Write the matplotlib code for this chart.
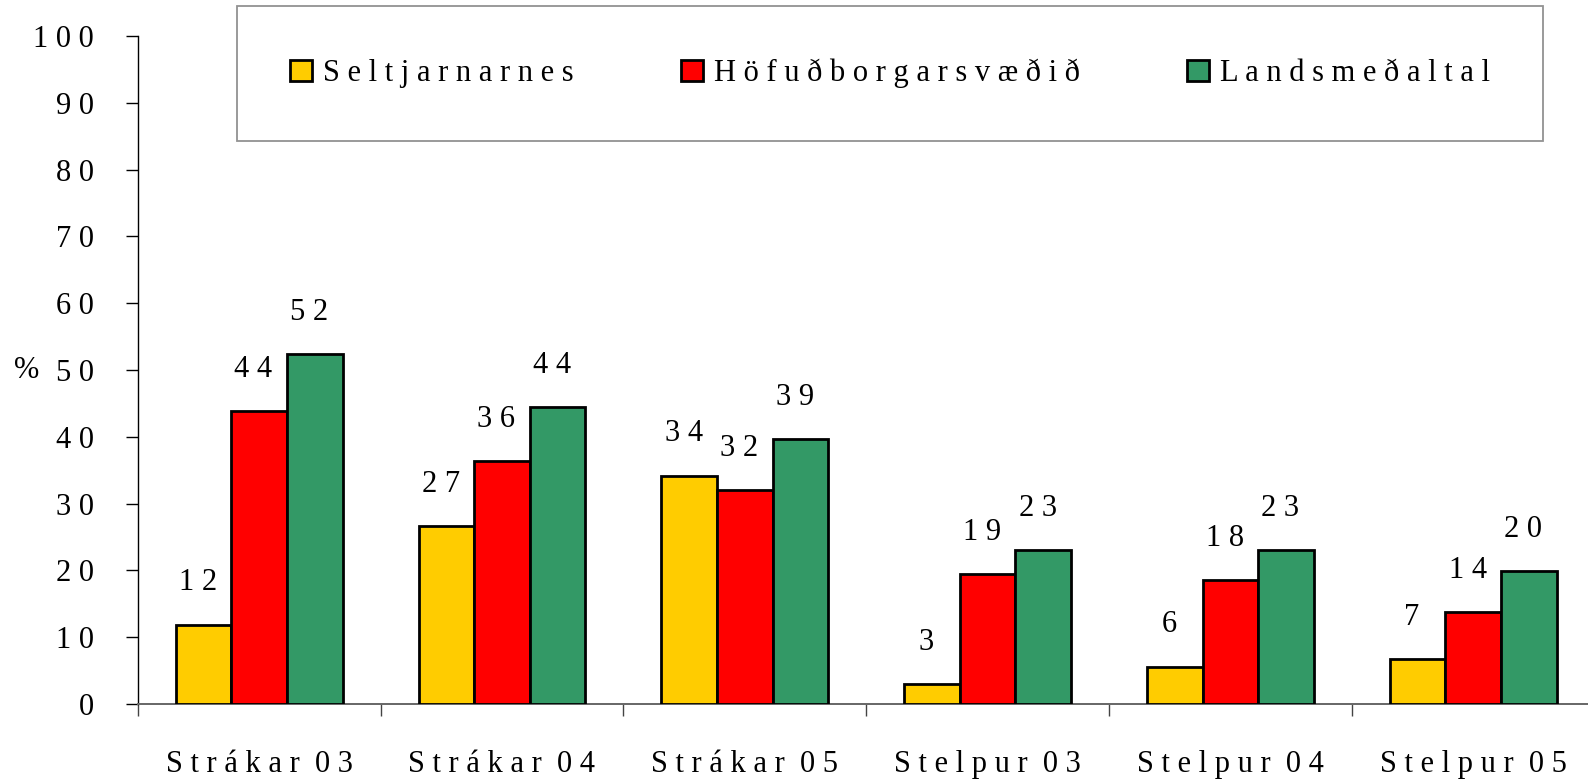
import matplotlib
matplotlib.use('Agg')
import matplotlib.pyplot as plt
import numpy as np

plt.rcParams['font.family'] = ['Liberation Serif', 'DejaVu Serif']

categories = ['S t r á k a r  0 3', 'S t r á k a r  0 4', 'S t r á k a r  0 5',
              'S t e l p u r  0 3', 'S t e l p u r  0 4', 'S t e l p u r  0 5']
series_names = ['S e l t j a r n a r n e s',
                'H ö f u ð b o r g a r s v æ ð i ð',
                'L a n d s m e ð a l t a l']
seltjarnarnes = [11.9, 26.6, 34.2, 3.0, 5.6, 6.7]
hofudborg = [43.8, 36.4, 32.0, 19.5, 18.6, 13.7]
landsmedaltal = [52.4, 44.4, 39.6, 23.0, 23.0, 19.9]
seltjarnarnes_lbl = [12, 27, 34, 3, 6, 7]
hofudborg_lbl = [44, 36, 32, 19, 18, 14]
landsmedaltal_lbl = [52, 44, 39, 23, 23, 20]
yticks = [0, 10, 20, 30, 40, 50, 60, 70, 80, 90, 100]

colors = ['#FFCC00', '#FF0000', '#339966']
FS = 22
W, H = 1588, 781


def spaced(s):
    return ' '.join(str(s))


fig = plt.figure(figsize=(W / 100, H / 100), dpi=100)
ax = fig.add_axes([137.7 / W, (H - 704) / H, 1457 / W, (704 - 36) / H])

x = np.arange(len(categories)) + 0.5
w = 0.229
data = [seltjarnarnes, hofudborg, landsmedaltal]
labels = [seltjarnarnes_lbl, hofudborg_lbl, landsmedaltal_lbl]
for i, (vals, lbls) in enumerate(zip(data, labels)):
    xs = x + (i - 1) * w
    ax.bar(xs, vals, width=w, color=colors[i], edgecolor='black',
           linewidth=2.0, label=series_names[i], zorder=3)
    for xi, v, lb in zip(xs, vals, lbls):
        ax.annotate(spaced(lb), (xi, v), xytext=(-4, 30),
                    textcoords='offset points', ha='center', va='center',
                    fontsize=FS)

ax.set_xlim(0, 6)
ax.set_ylim(0, 100)
ax.set_yticks(yticks)
ax.set_yticklabels([spaced(t) for t in yticks], fontsize=FS)
ax.tick_params(axis='y', length=8.6, width=1, pad=23, direction='out',
               color='black')
ax.set_xticks(np.arange(0, 7))
ax.set_xticklabels([])
ax.set_xticks(x, minor=True)
ax.set_xticklabels(categories, minor=True, fontsize=FS)
ax.tick_params(axis='x', which='major', length=8.6, width=1, color='#444444')
ax.tick_params(axis='x', which='minor', length=0, pad=33)

for s in ['top', 'right']:
    ax.spines[s].set_visible(False)
ax.spines['left'].set_color('black')
ax.spines['left'].set_linewidth(1)
ax.spines['bottom'].set_color('#666666')
ax.spines['bottom'].set_linewidth(1.4)

fig.text(26.3 / W, 1 - 370 / H, '%', ha='center', va='center', fontsize=FS)

leg = ax.legend(loc='center', ncol=3, mode='expand',
                bbox_to_anchor=(237 / W, 1 - 140 / H, (1543 - 237) / W, (140 - 6.7) / H),
                bbox_transform=fig.transFigure, fontsize=FS, frameon=True,
                fancybox=False, edgecolor='#777777', borderpad=1.72,
                handlelength=0.72, handleheight=0.72, handletextpad=0.36,
                borderaxespad=0)
leg.get_frame().set_linewidth(1.3)

fig.savefig('out.png', dpi=100)
